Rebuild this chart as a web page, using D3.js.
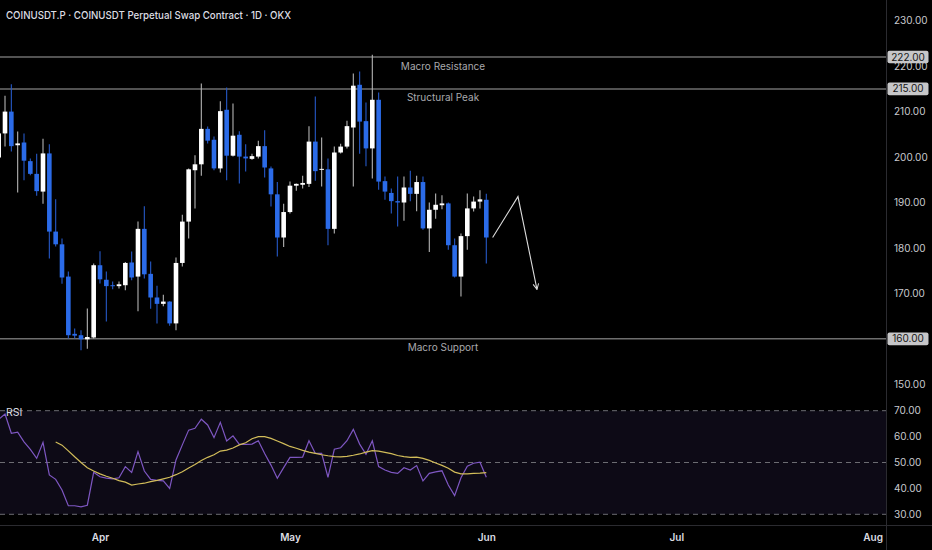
<!DOCTYPE html>
<html>
<head>
<meta charset="utf-8">
<script src="https://cdn.jsdelivr.net/npm/d3@7"></script>
<style>
html, body { margin: 0; padding: 0; background: #000; }
svg { display: block; font-family: Inter, "Noto Sans", sans-serif; }
</style>
</head>
<body>
<svg id="chart"></svg>
<script>
const WIDTH = 932;
const HEIGHT = 550;
const PLOT_RIGHT = 886;

const TITLE = 'COINUSDT.P · COINUSDT Perpetual Swap Contract · 1D · OKX';

// Daily candles, Mar 16 -> Jun 1
const dates = [
    '2025-03-16', '2025-03-17', '2025-03-18', '2025-03-19', '2025-03-20', '2025-03-21', '2025-03-22', '2025-03-23',
    '2025-03-24', '2025-03-25', '2025-03-26', '2025-03-27', '2025-03-28', '2025-03-29', '2025-03-30', '2025-03-31',
    '2025-04-01', '2025-04-02', '2025-04-03', '2025-04-04', '2025-04-05', '2025-04-06', '2025-04-07', '2025-04-08',
    '2025-04-09', '2025-04-10', '2025-04-11', '2025-04-12', '2025-04-13', '2025-04-14', '2025-04-15', '2025-04-16',
    '2025-04-17', '2025-04-18', '2025-04-19', '2025-04-20', '2025-04-21', '2025-04-22', '2025-04-23', '2025-04-24',
    '2025-04-25', '2025-04-26', '2025-04-27', '2025-04-28', '2025-04-29', '2025-04-30', '2025-05-01', '2025-05-02',
    '2025-05-03', '2025-05-04', '2025-05-05', '2025-05-06', '2025-05-07', '2025-05-08', '2025-05-09', '2025-05-10',
    '2025-05-11', '2025-05-12', '2025-05-13', '2025-05-14', '2025-05-15', '2025-05-16', '2025-05-17', '2025-05-18',
    '2025-05-19', '2025-05-20', '2025-05-21', '2025-05-22', '2025-05-23', '2025-05-24', '2025-05-25', '2025-05-26',
    '2025-05-27', '2025-05-28', '2025-05-29', '2025-05-30', '2025-05-31', '2025-06-01'
];

const opens = [
    199.9, 205.2, 210.0, 202.6, 203.2, 199.1, 196.3, 192.4, 200.8, 183.6, 180.8, 173.7, 161.1, 160.8, 159.9, 160.3,
    176.2, 173.0, 171.8, 171.6, 171.8, 176.8, 173.7, 184.2, 174.3, 169.1, 167.7, 168.2, 163.4, 176.7, 185.8, 197.1,
    198.4, 206.2, 203.8, 197.5, 210.4, 200.3, 204.9, 200.1, 199.6, 200.1, 202.4, 197.5, 191.8, 182.3, 187.9, 193.7,
    193.9, 194.1, 203.4, 197.2, 197.3, 184.2, 201.0, 202.3, 206.5, 215.9, 207.9, 201.9, 212.6, 194.7, 192.1, 190.3,
    190.0, 193.3, 191.9, 194.5, 184.3, 188.4, 189.4, 189.8, 180.6, 173.7, 182.6, 188.7, 190.2, 190.6
];

const highs = [
    206.0, 213.5, 216.0, 205.6, 205.2, 199.7, 200.7, 204.0, 202.8, 190.7, 182.1, 174.8, 162.3, 161.9, 166.7, 176.6,
    179.3, 174.8, 172.6, 172.6, 176.9, 179.2, 185.8, 189.2, 177.0, 171.7, 169.7, 168.3, 177.9, 187.3, 197.5, 200.4,
    216.2, 206.7, 204.5, 212.3, 215.3, 211.8, 205.7, 202.8, 200.7, 203.6, 205.9, 197.9, 194.5, 189.7, 194.6, 194.2,
    195.9, 206.8, 213.3, 204.3, 199.7, 202.3, 202.9, 208.0, 218.4, 218.8, 212.0, 222.5, 214.2, 195.7, 193.1, 195.7,
    195.7, 197.0, 195.9, 195.7, 190.0, 192.0, 191.6, 190.0, 182.1, 183.2, 192.0, 191.3, 192.7, 191.9
];

const lows = [
    199.0, 202.3, 201.2, 192.2, 194.9, 196.0, 191.5, 189.7, 177.7, 180.3, 172.1, 160.1, 160.1, 157.5, 157.8, 160.1,
    172.2, 163.8, 170.9, 171.1, 170.7, 172.9, 166.1, 173.3, 166.6, 163.4, 167.2, 162.9, 161.9, 175.9, 182.1, 188.7,
    195.9, 203.0, 197.1, 196.6, 194.9, 200.1, 194.2, 196.8, 199.4, 199.7, 195.5, 189.1, 178.1, 180.2, 187.6, 192.6,
    193.1, 193.4, 194.8, 193.5, 180.6, 183.2, 200.8, 201.9, 193.5, 200.7, 198.0, 195.3, 192.8, 190.6, 187.6, 184.7,
    186.0, 190.3, 188.1, 184.0, 179.1, 186.4, 188.5, 179.6, 173.5, 169.3, 179.6, 188.0, 188.7, 176.6
];

const closes = [
    205.2, 210.0, 202.4, 203.0, 199.2, 196.3, 192.5, 200.8, 183.6, 180.8, 173.5, 160.8, 160.7, 159.9, 160.4, 176.2,
    173.1, 171.6, 171.6, 172.0, 176.7, 173.5, 184.2, 174.2, 169.1, 167.7, 168.2, 163.4, 176.7, 185.8, 197.3, 198.4,
    206.2, 203.6, 197.5, 210.1, 200.3, 204.7, 200.1, 199.7, 200.2, 202.4, 197.7, 191.8, 182.3, 187.9, 193.7, 194.1,
    194.3, 203.4, 196.9, 197.4, 184.2, 201.0, 202.3, 206.8, 215.7, 207.8, 201.9, 212.6, 194.6, 192.4, 190.3, 190.0,
    193.3, 191.9, 194.5, 184.3, 188.4, 189.5, 189.8, 180.6, 173.7, 182.6, 188.7, 190.2, 190.7, 182.3
];

// RSI(14) and its moving average, one value per candle
const rsiValues = [
    66.7, 68.7, 61.3, 61.7, 58.0, 55.1, 51.6, 57.8, 45.2, 43.5, 39.4, 33.3, 33.3, 32.9, 33.5, 46.2,
    44.5, 44.0, 43.7, 44.1, 48.4, 46.2, 54.2, 46.7, 43.5, 43.1, 42.9, 40.0, 51.0, 56.8, 62.5, 63.2,
    66.7, 64.5, 59.6, 65.5, 58.3, 60.3, 57.0, 57.0, 57.1, 58.4, 53.5, 49.0, 43.9, 48.0, 52.0, 52.0,
    52.1, 58.4, 53.5, 53.5, 44.3, 55.1, 55.7, 58.4, 62.8, 57.1, 53.2, 58.4, 48.4, 47.1, 46.2, 45.8,
    48.0, 47.1, 48.8, 42.9, 45.8, 46.4, 46.8, 41.3, 37.2, 44.1, 48.6, 49.7, 50.1, 44.3
];

const rsiMaValues = [
    null, null, null, null, null, null, null, null, null, 57.9, 56.7, 54.5, 52.2, 50.0, 48.0, 46.7,
    45.6, 44.7, 43.9, 43.0, 42.4, 41.3, 41.7, 42.0, 42.6, 43.1, 43.7, 44.3, 45.3, 46.4, 47.9, 49.2,
    50.8, 52.0, 53.0, 54.4, 54.8, 55.6, 56.8, 57.6, 59.2, 60.0, 60.0, 59.3, 58.3, 57.3, 56.2, 55.5,
    54.7, 54.0, 53.5, 53.0, 52.6, 52.3, 52.2, 52.4, 52.8, 53.3, 54.0, 54.6, 54.4, 53.9, 53.4, 52.7,
    52.3, 52.0, 52.1, 51.6, 50.8, 49.8, 48.9, 47.8, 46.3, 45.6, 45.6, 45.8, 45.9, 46.1
];

const levelPrices = [222, 215, 160];
const levelNames = ['Macro Resistance', 'Structural Peak', 'Macro Support'];

const priceTicks = [150, 160, 170, 180, 190, 200, 210, 220, 230];
const rsiTicks = [30, 40, 50, 60, 70];
const rsiGuides = [70, 50, 30];
const monthTicks = ['2025-04-01', '2025-05-01', '2025-06-01', '2025-07-01', '2025-08-01'];

// Projection arrow drawn on the chart
const arrowDates = ['2025-06-02', '2025-06-06', '2025-06-09'];
const arrowPrices = [182.3, 191.3, 170.9];

const UP_COLOR = '#ffffff';
const DOWN_COLOR = '#2b6be8';
const UP_WICK = '#b4b4b4';
const DOWN_WICK = '#2659c8';

const parse = d3.utcParse('%Y-%m-%d');

function buildScales()
{
    const x = d3.scaleUtc()
        .domain([parse('2025-04-01'), parse('2025-08-01')])
        .range([100, 872.6]);
    const yPrice = d3.scaleLinear().domain([150, 230]).range([384.3, 20.7]);
    const yRsi = d3.scaleLinear().domain([30, 70]).range([514.3, 410.7]);
    return { x, yPrice, yRsi };
}

function drawFrame(svg)
{
    svg.append('rect').attr('width', WIDTH).attr('height', HEIGHT).attr('fill', '#000');

    // Pane borders
    svg.append('line')
        .attr('x1', PLOT_RIGHT + 0.5).attr('x2', PLOT_RIGHT + 0.5)
        .attr('y1', 0).attr('y2', HEIGHT)
        .attr('stroke', '#2b2b30');
    svg.append('line')
        .attr('x1', 0).attr('x2', WIDTH)
        .attr('y1', 525.5).attr('y2', 525.5)
        .attr('stroke', '#2b2b30');

    svg.append('text')
        .attr('x', 6).attr('y', 18.5)
        .attr('fill', '#dcdde2')
        .attr('font-size', 11)
        .attr('font-weight', 500)
        .attr('textLength', 285)
        .attr('lengthAdjust', 'spacingAndGlyphs')
        .text(TITLE);
}

function drawCandles(svg, x, yPrice)
{
    const candles = dates.map((d, i) => ({
        date: parse(d), open: opens[i], high: highs[i], low: lows[i], close: closes[i]
    }));
    const bodyW = 4.6;

    const g = svg.append('g')
        .attr('clip-path', 'url(#priceClip)');

    const c = g.selectAll('g.candle').data(candles).join('g').attr('class', 'candle');

    c.append('line')
        .attr('x1', d => x(d.date)).attr('x2', d => x(d.date))
        .attr('y1', d => yPrice(d.high)).attr('y2', d => yPrice(d.low))
        .attr('stroke', d => d.close >= d.open ? UP_WICK : DOWN_WICK)
        .attr('stroke-width', 1.1);

    c.append('rect')
        .attr('x', d => x(d.date) - bodyW / 2)
        .attr('width', bodyW)
        .attr('y', d => yPrice(Math.max(d.open, d.close)))
        .attr('height', d => Math.max(1, Math.abs(yPrice(d.open) - yPrice(d.close))))
        .attr('fill', d => d.close >= d.open ? UP_COLOR : DOWN_COLOR);
}

function drawLevels(svg, yPrice)
{
    const levels = levelPrices.map((p, i) => ({ price: p, name: levelNames[i] }));

    svg.selectAll('line.level').data(levels).join('line')
        .attr('class', 'level')
        .attr('x1', 0).attr('x2', PLOT_RIGHT)
        .attr('y1', d => yPrice(d.price)).attr('y2', d => yPrice(d.price))
        .attr('stroke', '#6e6e6e')
        .attr('stroke-width', 1.5);

    svg.selectAll('text.level-name').data(levels).join('text')
        .attr('class', 'level-name')
        .attr('x', PLOT_RIGHT / 2)
        .attr('y', d => yPrice(d.price) + 12.5)
        .attr('text-anchor', 'middle')
        .attr('fill', '#a9a9ad')
        .attr('font-size', 10)
        .text(d => d.name);
}

function drawArrow(svg, x, yPrice)
{
    const pts = arrowDates.map((d, i) => [x(parse(d)), yPrice(arrowPrices[i])]);

    svg.append('defs').append('marker')
        .attr('id', 'arrowHead')
        .attr('viewBox', '0 0 10 10')
        .attr('refX', 9).attr('refY', 5)
        .attr('markerWidth', 7).attr('markerHeight', 7)
        .attr('markerUnits', 'userSpaceOnUse')
        .attr('orient', 'auto')
        .append('path')
        .attr('d', 'M1,1 L9,5 L1,9')
        .attr('fill', 'none')
        .attr('stroke', '#dcdcdc')
        .attr('stroke-width', 1.4);

    svg.append('path')
        .attr('d', d3.line()(pts))
        .attr('fill', 'none')
        .attr('stroke', '#dcdcdc')
        .attr('stroke-width', 1.1)
        .attr('marker-end', 'url(#arrowHead)');
}

function drawRsi(svg, x, yRsi)
{
    svg.append('rect')
        .attr('x', 0).attr('width', PLOT_RIGHT)
        .attr('y', yRsi(70)).attr('height', yRsi(30) - yRsi(70))
        .attr('fill', '#0d0a16');

    svg.selectAll('line.rsi-guide').data(rsiGuides).join('line')
        .attr('class', 'rsi-guide')
        .attr('x1', 0).attr('x2', PLOT_RIGHT)
        .attr('y1', d => yRsi(d)).attr('y2', d => yRsi(d))
        .attr('stroke', '#6c6c72')
        .attr('stroke-dasharray', '5 4');

    const rows = dates.map((d, i) => ({ date: parse(d), rsi: rsiValues[i], ma: rsiMaValues[i] }));

    svg.append('path')
        .datum(rows)
        .attr('fill', 'none')
        .attr('stroke', '#7e57c2')
        .attr('stroke-width', 1.2)
        .attr('d', d3.line().x(d => x(d.date)).y(d => yRsi(d.rsi)));

    svg.append('path')
        .datum(rows)
        .attr('fill', 'none')
        .attr('stroke', '#d2bd5a')
        .attr('stroke-width', 1.2)
        .attr('d', d3.line()
            .defined(d => d.ma !== null)
            .x(d => x(d.date))
            .y(d => yRsi(d.ma)));

    svg.append('text')
        .attr('x', 6).attr('y', 415.5)
        .attr('fill', '#dcdde2')
        .attr('font-size', 10.5)
        .text('RSI');
}

function drawAxes(svg, x, yPrice, yRsi)
{
    const styleAxis = (g) =>
    {
        g.select('.domain').remove();
        g.selectAll('.tick line').remove();
        g.selectAll('text')
            .attr('fill', '#c9cacf')
            .attr('font-size', 10)
            .attr('font-family', 'Inter, "Noto Sans", sans-serif');
    };

    svg.append('g')
        .attr('transform', `translate(${ PLOT_RIGHT },0)`)
        .call(d3.axisRight(yPrice).tickValues(priceTicks).tickFormat(d3.format('.2f')).tickSize(0).tickPadding(8))
        .call(styleAxis);

    svg.append('g')
        .attr('transform', `translate(${ PLOT_RIGHT },0)`)
        .call(d3.axisRight(yRsi).tickValues(rsiTicks).tickFormat(d3.format('.2f')).tickSize(0).tickPadding(8))
        .call(styleAxis);

    svg.append('g')
        .attr('transform', 'translate(0,531)')
        .call(d3.axisBottom(x).tickValues(monthTicks.map(parse)).tickFormat(d3.utcFormat('%b')).tickSize(0).tickPadding(3))
        .call(styleAxis)
        .selectAll('text')
        .attr('fill', '#dcdde2')
        .attr('font-weight', 600);

    // Price tags for the horizontal levels
    const tags = svg.selectAll('g.tag').data(levelPrices).join('g')
        .attr('class', 'tag')
        .attr('transform', d => `translate(${ PLOT_RIGHT + 1.5 },${ yPrice(d) })`);
    tags.append('rect')
        .attr('x', 0).attr('y', -6.3)
        .attr('width', 41).attr('height', 12.6)
        .attr('rx', 2)
        .attr('fill', '#c6c6c8');
    tags.append('text')
        .attr('x', 20.5).attr('y', 0)
        .attr('dy', '0.35em')
        .attr('text-anchor', 'middle')
        .attr('fill', '#151515')
        .attr('font-size', 10)
        .text(d => d3.format('.2f')(d));
}

function render()
{
    const svg = d3.select('#chart').attr('width', WIDTH).attr('height', HEIGHT);
    const { x, yPrice, yRsi } = buildScales();

    drawFrame(svg);

    svg.append('clipPath').attr('id', 'priceClip')
        .append('rect').attr('x', 0).attr('y', 0).attr('width', PLOT_RIGHT).attr('height', 398);

    drawLevels(svg, yPrice);
    drawCandles(svg, x, yPrice);
    drawArrow(svg, x, yPrice);
    drawRsi(svg, x, yRsi);
    drawAxes(svg, x, yPrice, yRsi);
}

render();
</script>
</body>
</html>
